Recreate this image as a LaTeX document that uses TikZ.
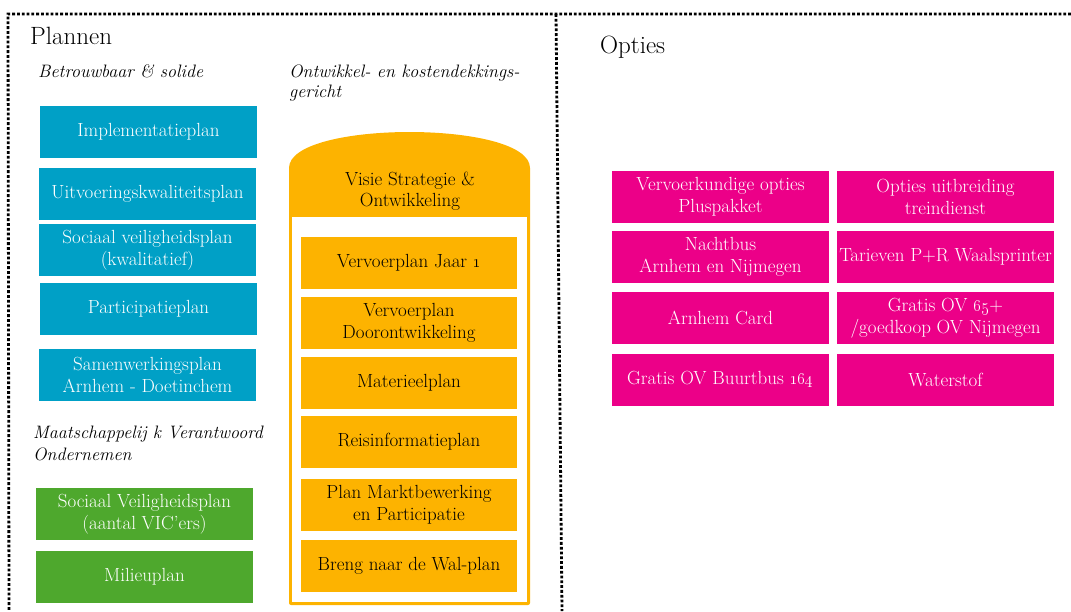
\documentclass[tikz,border=0pt]{standalone}
\definecolor{cblue}{HTML}{00A0C6}
\definecolor{cgreen}{HTML}{4EA82D}
\definecolor{corange}{HTML}{FDB300}
\definecolor{cpink}{HTML}{EC0088}
\begin{document}
\begin{tikzpicture}[x=1pt,y=-1pt,
  boxbase/.style={rectangle,minimum width=217pt,minimum height=52pt,inner sep=0pt,align=center,
    font=\fontsize{19}{21.5}\selectfont},
  bluebox/.style={boxbase,fill=cblue,text=white},
  greenbox/.style={boxbase,fill=cgreen,text=white},
  orangebox/.style={boxbase,minimum width=216pt,fill=corange,text=black},
  pinkbox/.style={boxbase,fill=cpink,text=white},
  title/.style={anchor=base west,inner sep=0pt,font=\fontsize{25}{28}\selectfont},
  sublabel/.style={anchor=north west,inner sep=0pt,align=left},
  dotline/.style={line width=2.8pt,dash pattern=on 2.8pt off 2pt}]
\useasboundingbox (0,0) rectangle (1071,611);

% dotted frame
\coordinate (tl) at (8,14);
\coordinate (tr) at (1071,14);
\coordinate (bl) at (9,611);
\coordinate (dt) at (556,14);
\coordinate (db) at (562,611);
\draw[dotline] (tr) -- (tl) -- (bl);
\draw[dotline] (dt) -- (db);

% titles
\node[title] (plannen) at (30,44) {Plannen};
\node[title] (opties) at (600,53) {Opties};

% sublabels
\node[sublabel,font=\fontsize{18}{20}\itshape\selectfont] (betr) at (38,64.2) {Betrouwbaar \& solide};
\node[sublabel,font=\fontsize{18}{20}\itshape\selectfont] (ontw) at (289,64.2) {Ontwikkel- en kostendekkings-\\gericht};
\node[sublabel,font=\fontsize{18}{22.4}\itshape\selectfont] (maat) at (33,425.8) {Maatschappelij k Verantwoord\\Ondernemen};

% blue boxes
\node[bluebox] (impl) at (148.5,132) {Implementatieplan};
\node[bluebox] (uitv) at (147.5,194) {Uitvoeringskwaliteitsplan};
\node[bluebox] (socv) at (147.5,250) {Sociaal veiligheidsplan\\(kwalitatief)};
\node[bluebox] (part) at (148.5,309) {Participatieplan};
\node[bluebox] (samen) at (147.5,375) {Samenwerkingsplan\\Arnhem - Doetinchem};

% green boxes
\node[greenbox] (socV) at (144.5,514) {Sociaal Veiligheidsplan\\(aantal VIC’ers)};
\node[greenbox] (milieu) at (144.5,577) {Milieuplan};

% orange container
\fill[corange,rounded corners=2pt] (289,605) -- (289,170)
  .. controls (289,120) and (530,120) .. (530,170) -- (530,605) -- cycle;
\fill[white] (292,217) rectangle (527,602);
\node[anchor=center,inner sep=0pt,align=center,font=\fontsize{19}{21.5}\selectfont] (visie) at (410,191)
  {Visie Strategie \&\\Ontwikkeling};

% orange boxes
\node[orangebox] (vj1) at (409,263) {Vervoerplan Jaar \oldstylenums{1}};
\node[orangebox] (vdo) at (409,323) {Vervoerplan\\Doorontwikkeling};
\node[orangebox] (mat) at (409,383) {Materieelplan};
\node[orangebox] (reis) at (409,442) {Reisinformatieplan};
\node[orangebox] (markt) at (409,505) {Plan Marktbewerking\\en Participatie};
\node[orangebox] (breng) at (409,566) {Breng naar de Wal-plan};

% pink boxes
\node[pinkbox] (p1) at (720.5,197) {Vervoerkundige opties\\Pluspakket};
\node[pinkbox] (p2) at (945.5,197) {Opties uitbreiding\\treindienst};
\node[pinkbox] (p3) at (720.5,257) {Nachtbus\\Arnhem en Nijmegen};
\node[pinkbox] (p4) at (945.5,257) {Tarieven P+R Waalsprinter};
\node[pinkbox] (p5) at (720.5,318) {Arnhem Card};
\node[pinkbox] (p6) at (945.5,318) {Gratis OV \oldstylenums{65}+\\/goedkoop OV Nijmegen};
\node[pinkbox] (p7) at (720.5,380) {Gratis OV Buurtbus \oldstylenums{164}};
\node[pinkbox] (p8) at (945.5,380) {Waterstof};
\end{tikzpicture}
\end{document}
